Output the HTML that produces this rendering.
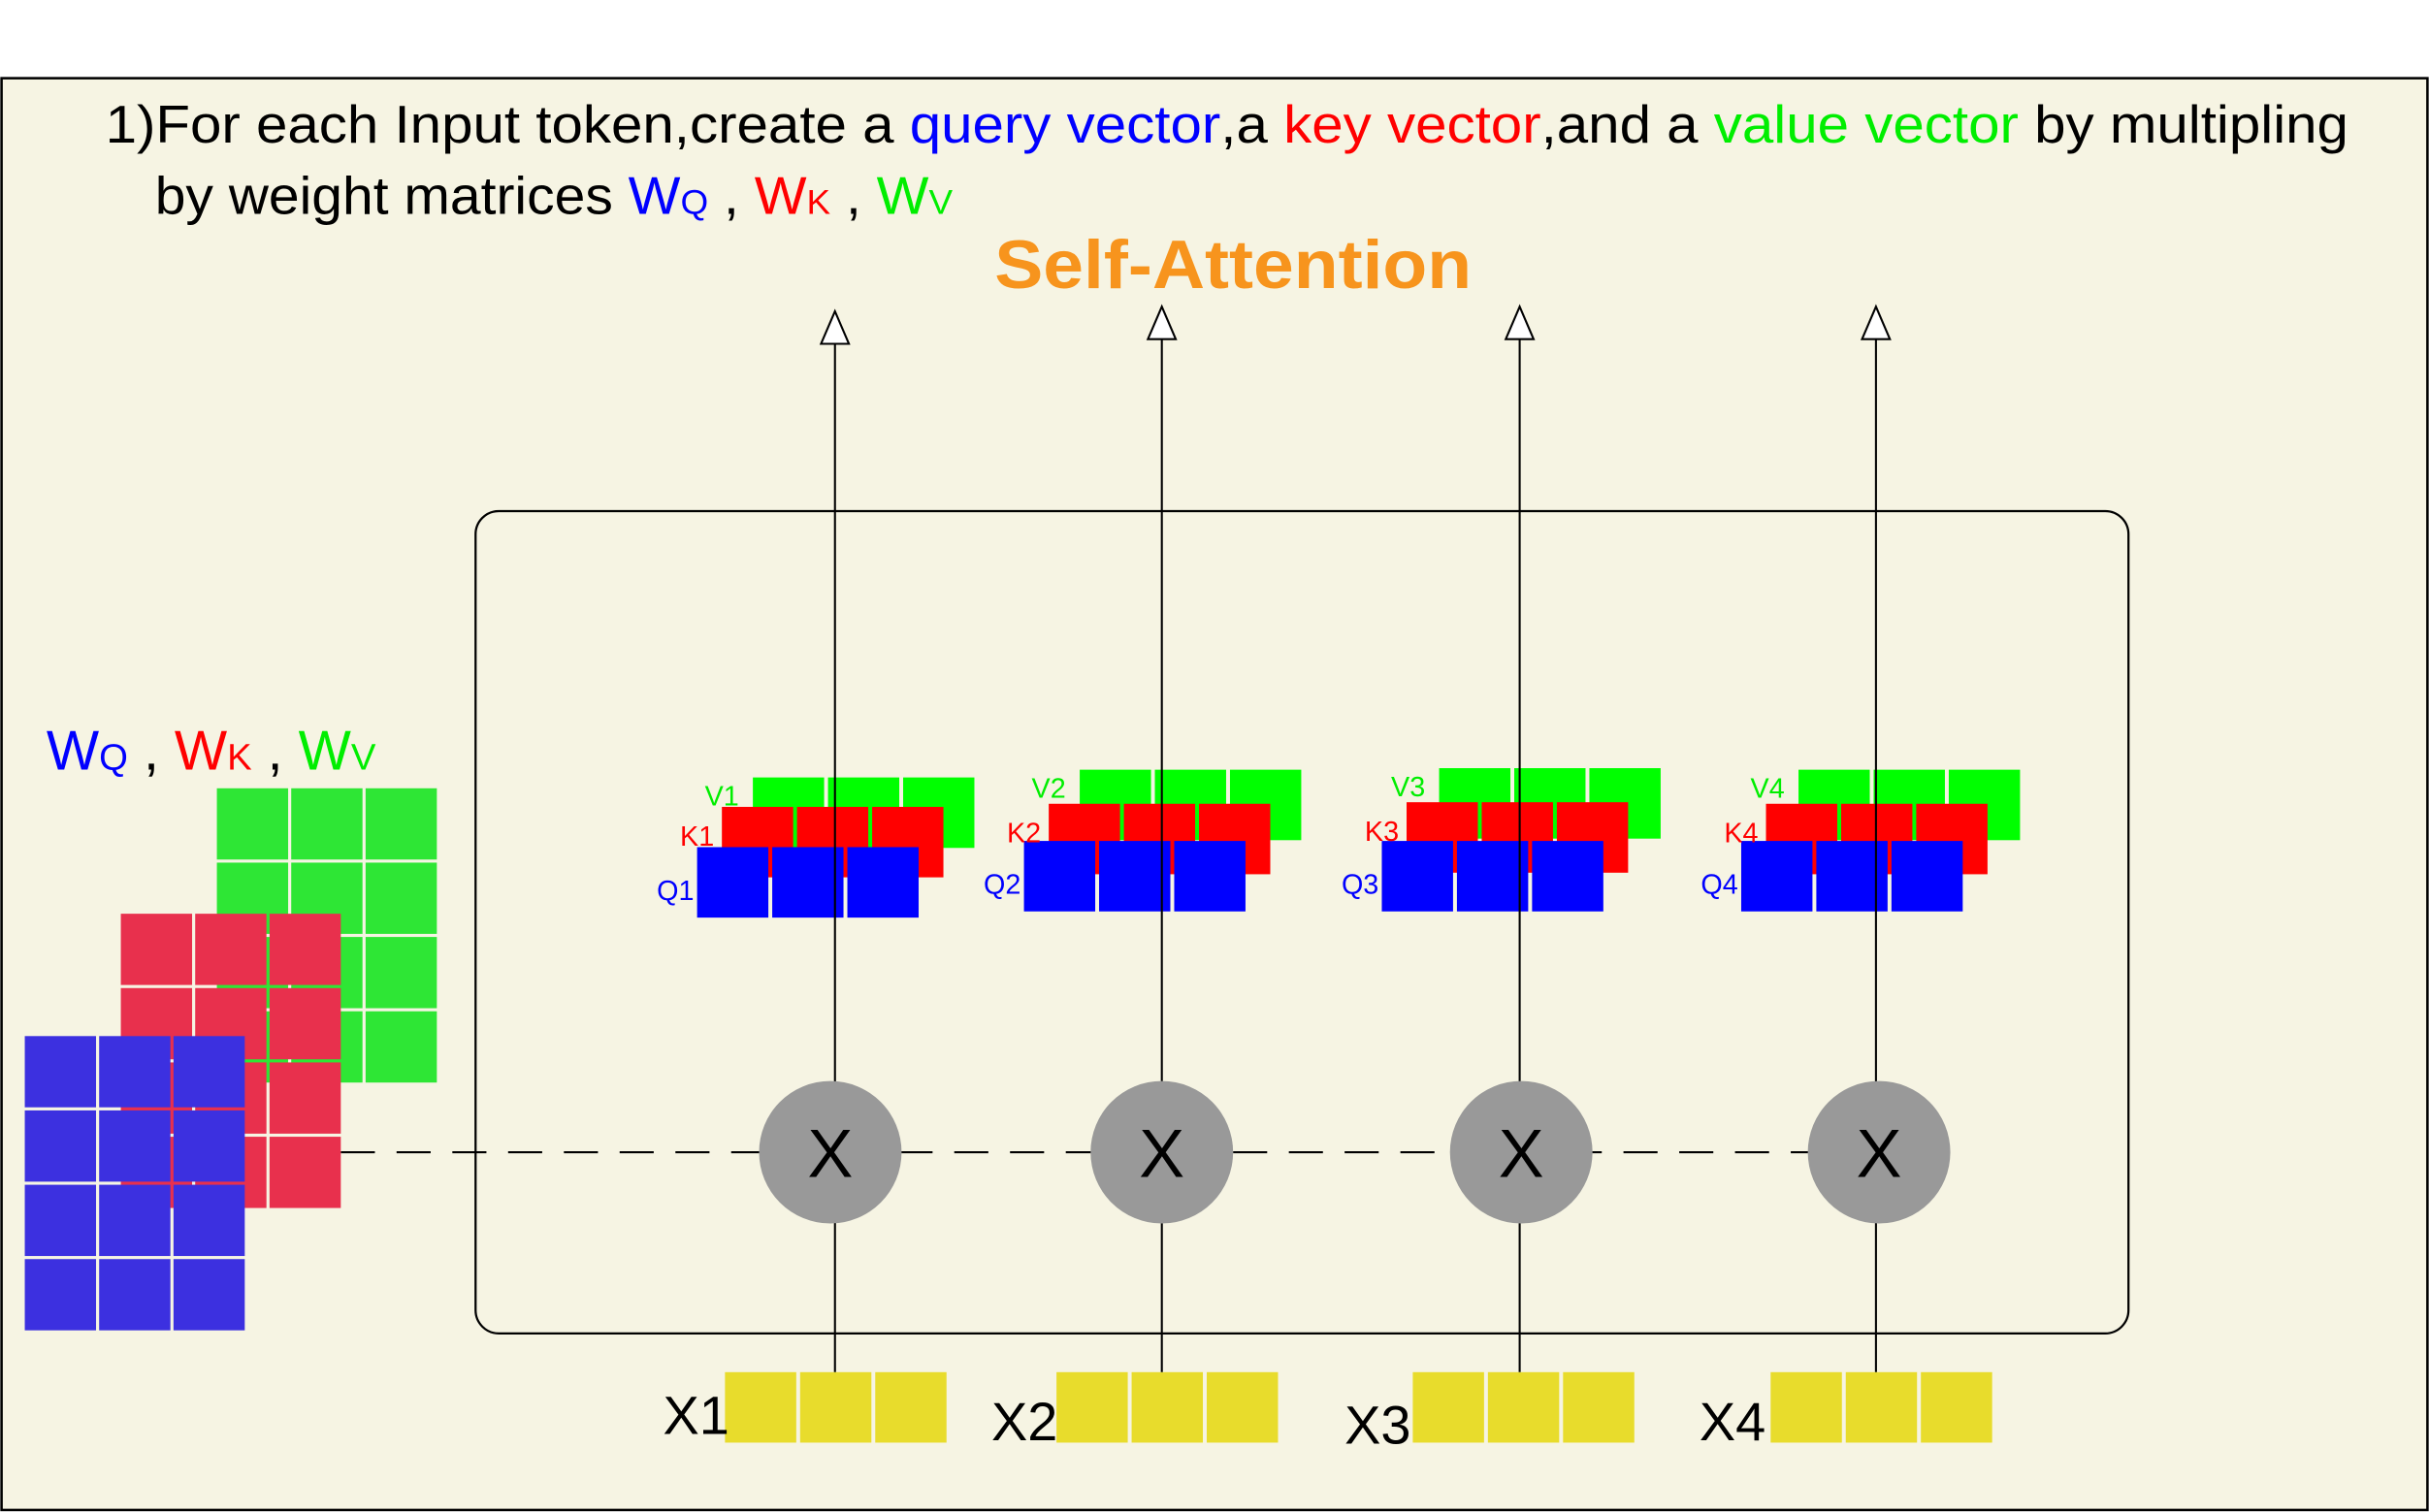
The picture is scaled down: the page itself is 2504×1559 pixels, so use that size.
<!DOCTYPE html>
<html><head><meta charset="utf-8"><style>
html,body{margin:0;padding:0;background:#fff;}
svg{display:block;}
text{font-family:"Liberation Sans",sans-serif;}
</style></head><body>
<svg id="chart" width="2504" height="1559" viewBox="0 0 1568 976.3" preserveAspectRatio="none" xmlns="http://www.w3.org/2000/svg">
<rect x="1" y="50.5" width="1566" height="924.5" fill="#f6f4e3" stroke="#000" stroke-width="1.6"/>
<text x="68" y="92" font-size="34" textLength="1448" lengthAdjust="spacingAndGlyphs">1)For each Input token,create a <tspan fill="#0000ff">query vector</tspan>,a <tspan fill="#ff0000">key vector</tspan>,and a <tspan fill="#00ee00">value vector</tspan> by multipling</text>
<text x="100" y="138" font-size="34" textLength="515" lengthAdjust="spacingAndGlyphs">by weight matrices <tspan fill="#0000ff">W<tspan font-size="22">Q</tspan></tspan> , <tspan fill="#ff0000">W<tspan font-size="22">K</tspan></tspan>  , <tspan fill="#00ee00">W<tspan font-size="22">V</tspan></tspan></text>
<text x="796" y="186" font-size="44" font-weight="bold" fill="#f7941d" text-anchor="middle" textLength="308" lengthAdjust="spacingAndGlyphs">Self-Attention</text>
<rect x="307" y="330" width="1067" height="531" rx="15" fill="none" stroke="#000" stroke-width="1.4"/>
<line x1="220" y1="744" x2="1168" y2="744" stroke="#000" stroke-width="1.3" stroke-dasharray="22,14"/>
<text x="30" y="497" font-size="36"><tspan fill="#0000ff">W<tspan font-size="24">Q</tspan></tspan> , <tspan fill="#ff0000">W<tspan font-size="24">K</tspan></tspan>  , <tspan fill="#00ee00">W<tspan font-size="24">V</tspan></tspan></text>
<g id="weights"></g>
<g id="tokens"></g>
</svg>
<script>
const tokenLabels = ["X1","X2","X3","X4"];
const tokenX = [539, 750, 981, 1211];
const circleX = [536, 750, 982, 1213];
const yellowLeft = [468, 682, 912, 1143];
const labelX = [428, 640, 868, 1097];
const labelY = [926, 930, 932, 930];
const qLeft = [450, 661, 892, 1124];
const qTop = [547, 543, 543, 543];
const kLeft = [466, 677, 908, 1140];
const kTop = [521, 519, 518, 519];
const vLeft = [486, 697, 929, 1161];
const vTop = [502, 497, 496, 497];
const arrowTop = [201, 198, 198, 198];

const NS = "http://www.w3.org/2000/svg";
function mk(tag, attrs, parent){const e=document.createElementNS(NS,tag);for(const k in attrs)e.setAttribute(k,attrs[k]);parent.appendChild(e);return e;}

const W = document.getElementById('weights');
function matrix(x0,y0,color,name){
  const g=mk('g',{},W);
  
  
  for(let r=0;r<4;r++)for(let c=0;c<3;c++){
    const cell=mk('rect',{x:x0+c*48,y:y0+r*48,width:46,height:46,fill:color},g);
    
    
  }
}
matrix(140,509,'#2ee635','wv-matrix');
matrix(78,590,'#e8304d','wk-matrix');
matrix(16,669,'#3c30e0','wq-matrix');

const T = document.getElementById('tokens');
function vec(x0,y0,color,name,g){
  for(let c=0;c<3;c++){
    const cell=mk('rect',{x:x0+c*48.5,y:y0,width:46,height:45.5,fill:color},g);
    
    
  }
}
for(let i=0;i<tokenLabels.length;i++){
  const g=mk('g',{},T);
  
  
  vec(vLeft[i],vTop[i],'#00ff00','value-vector-cell',g);
  vec(kLeft[i],kTop[i],'#ff0000','key-vector-cell',g);
  vec(qLeft[i],qTop[i],'#0000ff','query-vector-cell',g);
  const lv=mk('text',{x:vLeft[i]-31,y:vTop[i]+18,'font-size':18,fill:'#00ee00'},g); lv.textContent='V'+(i+1);
  
  
  const lk=mk('text',{x:kLeft[i]-27,y:kTop[i]+25,'font-size':18,fill:'#ff0000'},g); lk.textContent='K'+(i+1);
  
  
  const lq=mk('text',{x:qLeft[i]-26,y:qTop[i]+34,'font-size':18,fill:'#0000ff'},g); lq.textContent='Q'+(i+1);
  
  
  vec(yellowLeft[i],886,'#e8dc2c','input-token-cell',g);
  const ln=mk('line',{x1:tokenX[i],y1:arrowTop[i]+21,x2:tokenX[i],y2:886,stroke:'#000','stroke-width':1.3},g);
  
  
  const ar=mk('polygon',{points:`${tokenX[i]},${arrowTop[i]} ${tokenX[i]-9},${arrowTop[i]+21} ${tokenX[i]+9},${arrowTop[i]+21}`,fill:'#fff',stroke:'#000','stroke-width':1.3},g);
  
  
  const ci=mk('circle',{cx:circleX[i],cy:744,r:46,fill:'#999999'},g);
  
  
  const cx=mk('text',{x:circleX[i],y:760,'font-size':44,'text-anchor':'middle',fill:'#000'},g); cx.textContent='X';
  
  
  const tl=mk('text',{x:labelX[i],y:labelY[i],'font-size':35,fill:'#000'},g); tl.textContent=tokenLabels[i];
  
  
}
</script>
</body></html>
